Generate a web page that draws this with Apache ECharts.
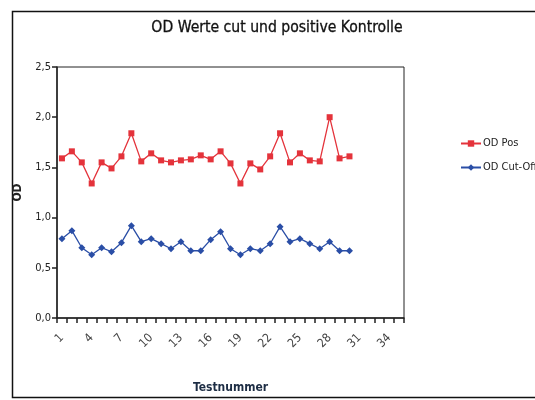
<!DOCTYPE html>
<html>
<head>
<meta charset="utf-8">
<script src="https://cdn.jsdelivr.net/npm/echarts@6/dist/echarts.min.js"></script>
<style>
html,body{margin:0;padding:0;background:#fff;}
#c{width:535px;height:400px;}
</style>
</head>
<body>
<div id="c"></div>
<script>
var categories = [];
for (var i = 1; i <= 35; i++) categories.push(String(i));
var odPos = [1.59,1.66,1.55,1.34,1.55,1.49,1.61,1.84,1.56,1.64,1.57,1.55,1.57,1.58,1.62,1.58,1.66,1.54,1.34,1.54,1.48,1.61,1.84,1.55,1.64,1.57,1.56,2.00,1.59,1.61];
var odCut = [0.79,0.87,0.70,0.63,0.70,0.66,0.75,0.92,0.76,0.79,0.74,0.69,0.76,0.67,0.67,0.78,0.86,0.69,0.63,0.69,0.67,0.74,0.91,0.76,0.79,0.74,0.69,0.76,0.67,0.67];
var yTicks = [0, 0.5, 1.0, 1.5, 2.0, 2.5];

var FONT = "'Liberation Sans Narrow','DejaVu Sans Condensed','Liberation Sans',sans-serif";
var chart = echarts.init(document.getElementById('c'));
chart.setOption({
  animation: false,
  backgroundColor: '#fff',
  graphic: [{
    type: 'rect', shape: {x: 12.5, y: 11.5, width: 540, height: 386},
    style: {fill: 'none', stroke: '#111', lineWidth: 1.5}, silent: true
  }],
  title: {
    text: 'OD Werte cut und positive Kontrolle',
    left: 272, top: 15, textAlign: 'center',
    textStyle: {fontFamily: FONT, fontSize: 15.6, fontWeight: 'normal', color: '#111', textBorderColor: '#111', textBorderWidth: 0.3}
  },
  legend: {
    orient: 'vertical', left: 455, top: 133, itemGap: 13,
    itemWidth: 20, itemHeight: 8,
    textStyle: {fontFamily: FONT, fontSize: 11, color: '#222', padding: [0,0,0,-3]},
    data: ['OD Pos', 'OD Cut-Off']
  },
  grid: {left: 57, right: 131, top: 67, bottom: 82, show: true, borderColor: '#222', borderWidth: 1},
  xAxis: {
    type: 'category', data: categories, boundaryGap: true,
    name: 'Testnummer', nameLocation: 'middle', nameGap: 64,
    nameTextStyle: {fontFamily: FONT, fontSize: 12, fontWeight: 'bold', color: '#1d2d44'},
    axisLine: {lineStyle: {color: '#222', width: 1.5}},
    axisTick: {show: true, interval: 0, length: 5, inside: false, lineStyle: {color: '#222', width: 1.5}},
    axisLabel: {interval: 2, rotate: 45, margin: 18, fontFamily: FONT, fontSize: 12, color: '#444'},
    splitLine: {show: false}
  },
  yAxis: {
    type: 'value', min: 0, max: 2.5, interval: 0.5,
    name: 'OD', nameLocation: 'middle', nameGap: 30, nameRotate: 90,
    nameTextStyle: {fontFamily: FONT, fontSize: 12, fontWeight: 'bold', color: '#222'},
    axisLine: {show: true, lineStyle: {color: '#222', width: 1.5}},
    axisTick: {show: true, length: 5, lineStyle: {color: '#222', width: 1.5}},
    axisLabel: {fontFamily: FONT, fontSize: 11, color: '#222', margin: 6,
      formatter: function (v) { return v.toFixed(1).replace('.', ','); }},
    splitLine: {show: false}
  },
  series: [
    {
      name: 'OD Pos', type: 'line', data: odPos,
      symbol: 'rect', symbolSize: 6, showAllSymbol: true,
      itemStyle: {color: '#e4333b'}, lineStyle: {color: '#e4333b', width: 1.3}
    },
    {
      name: 'OD Cut-Off', type: 'line', data: odCut,
      symbol: 'diamond', symbolSize: 7, showAllSymbol: true,
      itemStyle: {color: '#2a4ea6'}, lineStyle: {color: '#2a4ea6', width: 1.3}
    }
  ]
});
</script>
</body>
</html>
